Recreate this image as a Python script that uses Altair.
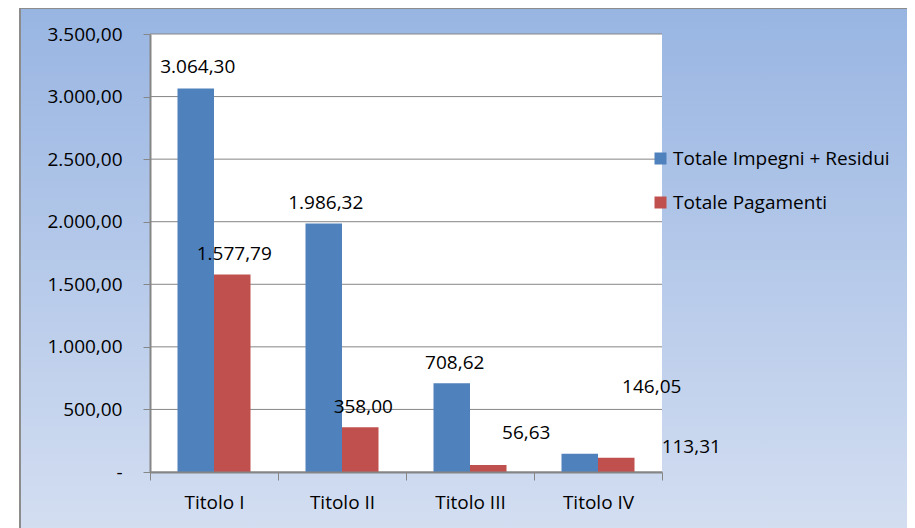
import altair as alt
import pandas as pd

# ---- data ----
categories = ["Titolo I", "Titolo II", "Titolo III", "Titolo IV"]
series = ["Totale Impegni + Residui", "Totale Pagamenti"]
impegni = [3064.30, 1986.32, 708.62, 146.05]
pagamenti = [1577.79, 358.00, 56.63, 113.31]
y_ticks = [0, 500, 1000, 1500, 2000, 2500, 3000, 3500]

# ---- style: pixel offsets of each data label (dx, dy) from the bar top ----
label_offsets = [
    [(2, -16), (2, -15)],
    [(2, -14), (3, -14)],
    [(3, -14), (38, -26)],
    [(72, -61), (75, -5)],
]

FONT = "Open Sans"
FS = 19
BLUE = "#4F81BD"
RED = "#C0504D"
GRID = "#868686"
W, H = 512, 438


def it_fmt(v):
    s = f"{v:,.2f}"
    return s.replace(",", "#").replace(".", ",").replace("#", ".")


rows = []
for i, c in enumerate(categories):
    for j, (s, vals) in enumerate(zip(series, [impegni, pagamenti])):
        rows.append({"cat": c, "series": s, "value": vals[i], "label": it_fmt(vals[i])})
df = pd.DataFrame(rows)

x_enc = alt.X(
    "cat:N",
    sort=categories,
    scale=alt.Scale(paddingInner=0, paddingOuter=0),
    axis=alt.Axis(
        title=None,
        labelAngle=0,
        tickBand="extent",
        tickSize=8,
        tickColor=GRID,
        tickWidth=1,
        domainColor=GRID,
        domainWidth=2,
        labelPadding=13,
        zindex=1,
    ),
)
xoff_enc = alt.XOffset(
    "series:N", sort=series, scale=alt.Scale(paddingInner=0, paddingOuter=0.753)
)
y_label_expr = (
    "datum.value == 0 ? '-\u2007' : "
    "replace(replace(replace(format(datum.value, ',.2f'), ',', '#'), '.', ','), '#', '.')"
)
y_enc = alt.Y(
    "value:Q",
    scale=alt.Scale(domain=[0, 3500], nice=False),
    axis=alt.Axis(
        title=None,
        values=y_ticks,
        grid=False,
        labelExpr=y_label_expr,
        tickSize=7,
        tickColor=GRID,
        tickWidth=1,
        domainColor=GRID,
        domainWidth=2,
        labelPadding=21,
        zindex=1,
    ),
)

gradient = alt.LinearGradient(
    gradient="linear",
    stops=[
        alt.GradientStop(offset=0, color="#98b5e2"),
        alt.GradientStop(offset=1, color="#dfe6f4"),
    ],
    x1=0, x2=0, y1=0, y2=1,
)

one = pd.DataFrame({"k": [0]})
bg = alt.Chart(one).mark_rect(fill=gradient, stroke="#8c8c8c", strokeWidth=2).encode(
    x=alt.value(-130), x2=alt.value(900), y=alt.value(-26), y2=alt.value(600)
)
plot_bg = alt.Chart(one).mark_rect(fill="white").encode(
    x=alt.value(0), x2=alt.value(W), y=alt.value(0), y2=alt.value(H)
)
grid = alt.Chart(pd.DataFrame({"value": y_ticks})).mark_rule(
    color=GRID, strokeWidth=1
).encode(y=y_enc)

bars = alt.Chart(df).mark_bar().encode(
    x=x_enc,
    xOffset=xoff_enc,
    y=y_enc,
    color=alt.Color(
        "series:N",
        sort=series,
        scale=alt.Scale(domain=series, range=[BLUE, RED]),
        legend=alt.Legend(
            title=None,
            orient="none",
            legendX=501,
            legendY=115,
            symbolType="square",
            symbolSize=144,
            symbolStrokeWidth=0,
            labelFont=FONT,
            labelFontSize=FS,
            labelColor="black",
            rowPadding=24,
            labelOffset=3,
            padding=0,
            labelLimit=400,
            zindex=1,
        ),
    ),
)

layers = [bg, plot_bg, grid, bars]
for i, c in enumerate(categories):
    for j, s in enumerate(series):
        dx, dy = label_offsets[i][j]
        layers.append(
            alt.Chart(df)
            .transform_filter((alt.datum.cat == c) & (alt.datum.series == s))
            .mark_text(
                dx=dx, dy=dy, baseline="alphabetic", align="center",
                font=FONT, fontSize=FS, color="black",
            )
            .encode(x=x_enc, xOffset=xoff_enc, y=y_enc, text="label:N")
        )

chart = (
    alt.layer(*layers)
    .properties(
        width=W,
        height=H,
        autosize=alt.AutoSizeParams(type="none"),
        padding={"left": 142, "top": 26, "right": 245, "bottom": 56},
        background="white",
    )
    .configure_axis(labelFont=FONT, labelFontSize=FS, labelColor="black")
    .configure_view(strokeWidth=0)
)

chart.save("out.html", embed_options={"renderer": "svg", "actions": False})
